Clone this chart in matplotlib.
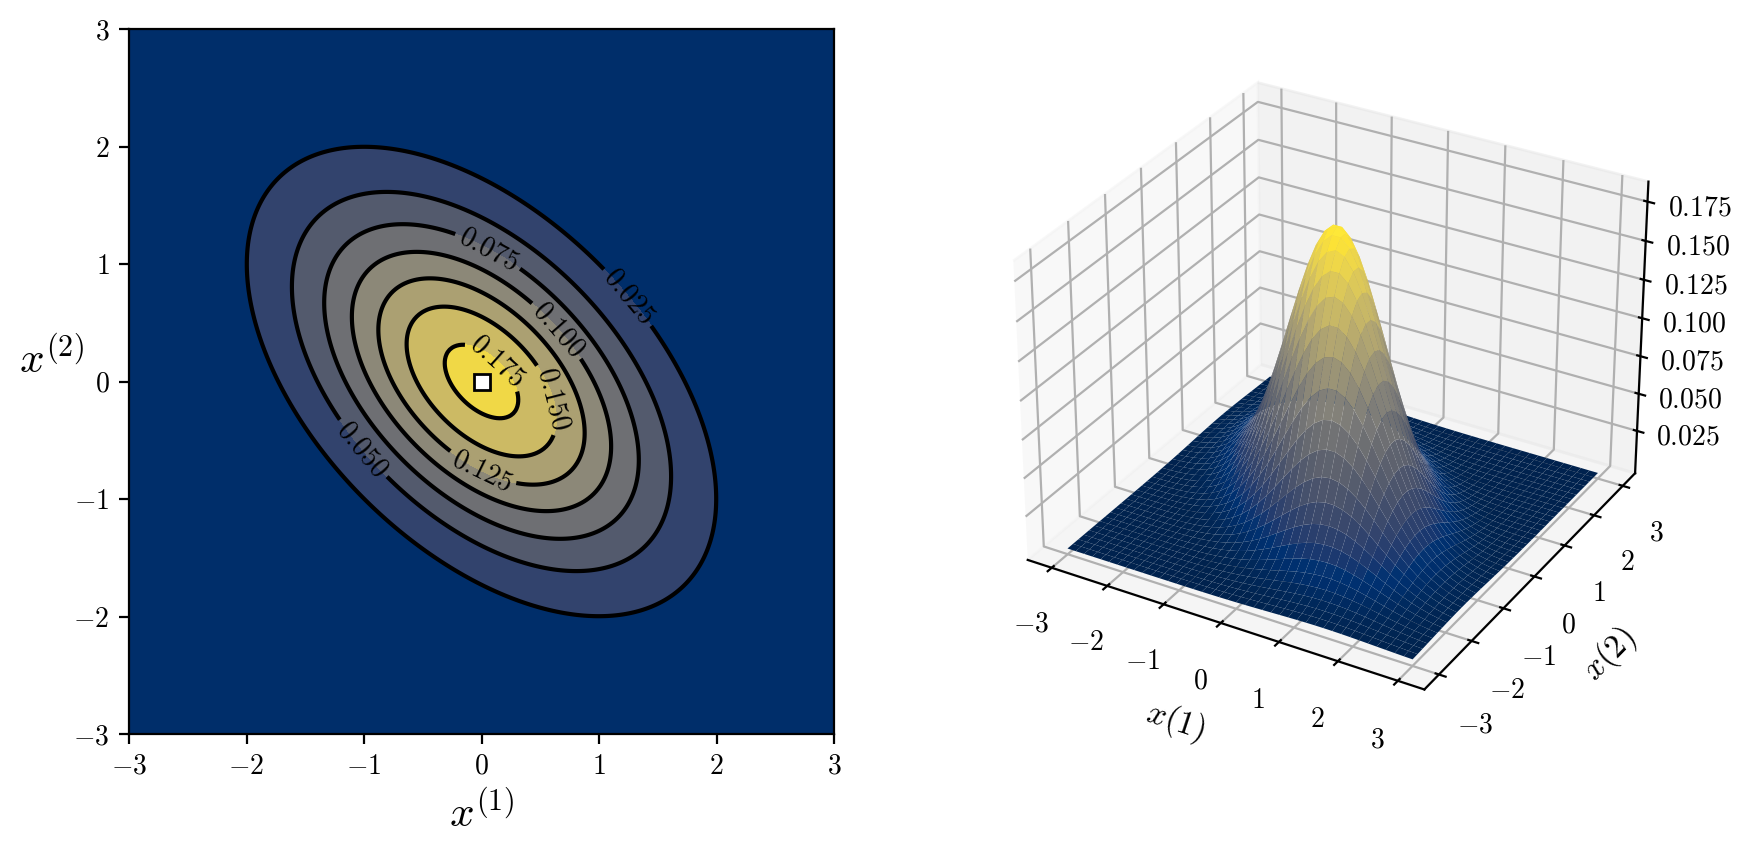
import numpy as np
import matplotlib
matplotlib.use('Agg')
import matplotlib.pyplot as plt
from matplotlib.ticker import FuncFormatter

plt.rcParams['font.family'] = ['cmr10', 'DejaVu Sans']
plt.rcParams['mathtext.fontset'] = 'cm'
plt.rcParams['axes.formatter.use_mathtext'] = True
plt.rcParams['axes.unicode_minus'] = True

# parameters: extent of the 0.025 ellipse and the peak height
mean = [0.0, 0.0]
cov = [[1.0, -0.5], [-0.5, 1.0]]
x_range = [-3, 3]
n_grid = 41

contour_levels = [0.025, 0.050, 0.075, 0.100, 0.125, 0.150, 0.175]
label_spots = [(1.25, 0.72), (-1.02, -0.58), (0.07, 1.14), (0.65, 0.44),
               (0.0, -0.76), (0.6, -0.15), (0.14, 0.18)]
ticks = [-3, -2, -1, 0, 1, 2, 3]
z_ticks = [0.025, 0.050, 0.075, 0.100, 0.125, 0.150, 0.175]


def density(x1, x2):
    # bivariate normal density, this is what the chart shows
    inv = np.linalg.inv(cov)
    d1 = x1 - mean[0]
    d2 = x2 - mean[1]
    q = inv[0][0]*d1*d1 + 2*inv[0][1]*d1*d2 + inv[1][1]*d2*d2
    return np.exp(-0.5*q) / (2*np.pi*np.sqrt(np.linalg.det(cov)))


def int_label(v, pos=None):
    return '$%d$' % v if v >= 0 else '$-%d$' % -v


fig = plt.figure(figsize=(8.75, 4.295), dpi=200)

# left panel
ax = fig.add_axes([129/1750, 1 - 734/859, 705/1750, 705/859])
x = np.linspace(x_range[0], x_range[1], 300)
X, Y = np.meshgrid(x, x)
Z = density(X, Y)
ax.contourf(X, Y, Z, levels=[0] + contour_levels + [0.2], cmap='cividis')
cs = ax.contour(X, Y, Z, levels=contour_levels, colors='k', linewidths=1.5)
labels = ax.clabel(cs, fmt='$%.3f$', fontsize=10, manual=label_spots, inline=True)
ax.plot(mean[0], mean[1], 's', color='w', markeredgecolor='k', markersize=6, markeredgewidth=1.0)
ax.set_xlim(x_range)
ax.set_ylim(x_range)
ax.set_xticks(ticks)
ax.set_yticks(ticks)
ax.xaxis.set_major_formatter(FuncFormatter(int_label))
ax.yaxis.set_major_formatter(FuncFormatter(int_label))
ax.set_xlabel('$x^{(1)}$', fontsize=15.5, labelpad=4)
ax.set_ylabel('$x^{(2)}$', fontsize=15.5, rotation=0, labelpad=8)

# right panel
ax3 = fig.add_axes([0.5568, 0.144, 0.4035, 0.825], projection='3d')
xs = np.linspace(x_range[0], x_range[1], n_grid)
XS, YS = np.meshgrid(xs, xs)
ax3.plot_surface(XS, YS, density(XS, YS), cmap='cividis', rstride=1, cstride=1,
                 linewidth=0, antialiased=True)
ax3.set_xticks(ticks)
ax3.set_yticks(ticks)
ax3.set_zticks(z_ticks)
ax3.xaxis.set_major_formatter(FuncFormatter(int_label))
ax3.yaxis.set_major_formatter(FuncFormatter(int_label))
ax3.zaxis.set_major_formatter(FuncFormatter(lambda v, pos: '$%.3f$' % v))
ax3.set_xlabel(r'$\mathit{x(1)}$', fontsize=12)
ax3.set_ylabel(r'$\mathit{x(2)}$', fontsize=12)

fig.savefig('out.png', dpi=200)
